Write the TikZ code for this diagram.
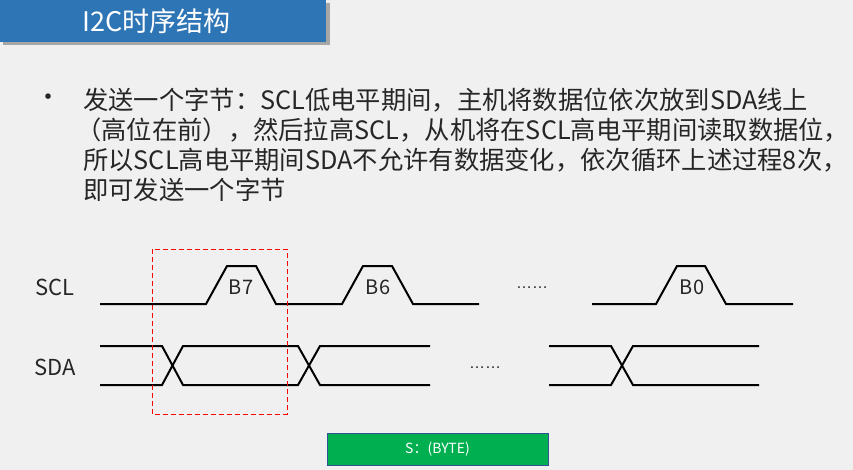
\documentclass[tikz,border=0pt]{standalone}
\usepackage{fontspec}
\setmainfont{Noto Sans CJK SC}
\newfontfamily\dotsfont{Liberation Sans}
\definecolor{bgc}{HTML}{F0F0F0}
\definecolor{titleblue}{HTML}{2E75B6}
\definecolor{boxgreen}{HTML}{00B050}
\definecolor{boxedge}{HTML}{2F5597}
\begin{document}
\begin{tikzpicture}[x=1pt,y=-1pt,
  wave/.style={line width=2pt,line join=miter,black},
  body/.style={anchor=west,inner sep=0pt,font=\fontsize{25.3}{30}\selectfont,text=black!85},
  sig/.style={inner sep=0pt,font=\fontsize{22}{26}\selectfont,text=black!85},
  bitlbl/.style={inner sep=0pt,font=\fontsize{20}{24}\selectfont,text=black!85},
  ell/.style={inner sep=0pt,anchor=base,font=\dotsfont\fontsize{16}{18}\selectfont,text=black!85}]
\useasboundingbox (0,0) rectangle (853,470);
\fill[bgc] (0,0) rectangle (853,470);
% title bar
\fill[black!35] (3,3) rectangle (330,45);
\fill[titleblue] (0,0) rectangle (326,42);
\node[anchor=west,inner sep=0pt,text=white,font=\fontsize{27}{30}\selectfont] (title) at (82,21) {I2C时序结构};
% bullet text
\node[inner sep=0pt,font=\fontsize{26}{28}\selectfont,text=black!85] (bullet) at (48,100) {•};
\node[body] (l1) at (83,100) {发送一个字节：SCL低电平期间，主机将数据位依次放到SDA线上};
\node[body] (l2) at (76,130) {（高位在前），然后拉高SCL，从机将在SCL高电平期间读取数据位，};
\node[body] (l3) at (83,160) {所以SCL高电平期间SDA不允许有数据变化，依次循环上述过程8次，};
\node[body] (l4) at (83,190) {即可发送一个字节};
% signal labels
\node[sig] (scl) at (55,287) {SCL};
\node[sig] (sda) at (55,367) {SDA};
% SCL waveform
\draw[wave] (100,304) -- (206,304) -- (227,266) -- (256,266) -- (276,304) -- (342,304) -- (363,266) -- (392,266) -- (413,304) -- (479,304);
\draw[wave] (592,304) -- (656,304) -- (677,266) -- (705,266) -- (726,304) -- (793,304);
\node[bitlbl] (b7) at (241,287) {B7};
\node[bitlbl] (b6) at (378,287) {B6};
\node[bitlbl] (b0) at (692,287) {B0};
\node[ell] (dots1) at (532,288) {……};
% SDA waveform
\draw[wave] (100,346) -- (162,346) -- (183,385) -- (298,385) -- (320,346) -- (430,346);
\draw[wave] (100,385) -- (162,385) -- (183,346) -- (298,346) -- (320,385) -- (430,385);
\draw[wave] (549,346) -- (611,346) -- (633,385) -- (759,385);
\draw[wave] (549,385) -- (611,385) -- (633,346) -- (759,346);
\node[ell] (dots2) at (485,368) {……};
% red dashed frame
\draw[red,line width=1pt,dash pattern=on 5pt off 3pt] (152,249) rectangle (287,414);
% green box
\node[draw=boxedge,line width=1pt,fill=boxgreen,minimum width=221pt,minimum height=32pt,inner sep=0pt,text=white,font=\fontsize{14}{16}\selectfont] (byte) at (437.5,449) {S：(BYTE)};
\end{tikzpicture}
\end{document}
